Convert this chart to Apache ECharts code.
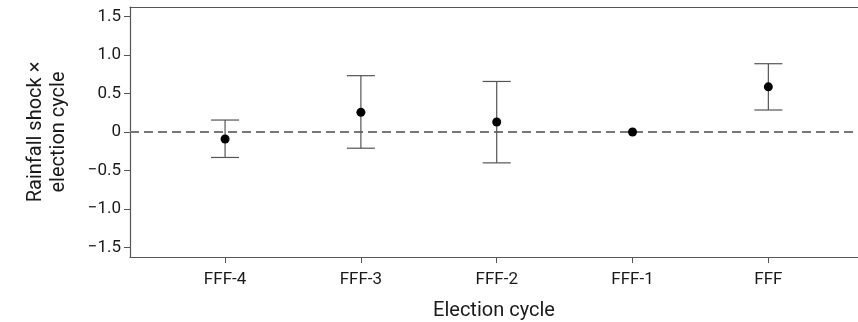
<!DOCTYPE html>
<html>
<head>
<meta charset="utf-8">
<script src="https://cdn.jsdelivr.net/npm/echarts@6/dist/echarts.min.js"></script>
<style>
  html, body { margin: 0; padding: 0; background: #fff; }
  #main { width: 858px; height: 322px; }
</style>
</head>
<body>
<div id="main"></div>
<script>
// election cycles, x positions 1..5
const categories = ["FFF-4", "FFF-3", "FFF-2", "FFF-1", "FFF"];
const estimates = [-0.09, 0.255, 0.13, 0, 0.585];
const ciLower = [-0.33, -0.21, -0.40, null, 0.285];
const ciUpper = [0.155, 0.73, 0.655, null, 0.885];
const yTicks = [-1.5, -1.0, -0.5, 0, 0.5, 1.0, 1.5];

const font = "Roboto, 'Noto Sans', sans-serif";
const xs = categories.map((c, i) => i + 1);

var chartDom = document.getElementById("main");
var myChart = echarts.init(chartDom);

const points = categories.map((c, i) => [i + 1, estimates[i]]);
const bars = categories
  .map((c, i) => [i + 1, ciLower[i], ciUpper[i]])
  .filter((d) => d[1] != null);

const fmtY = (v) => {
  if (Math.abs(v) < 1e-9) return "0";
  const s = Math.abs(v).toFixed(1);
  return v < 0 ? "\u2212" + s : s;
};

var option = {
  animation: false,
  grid: { left: 130, right: 0, top: 7, bottom: 65, outerBoundsMode: "none", containLabel: false },
  xAxis: [
    {
      type: "value",
      min: 0.3,
      max: 5.66,
      splitLine: { show: false },
      axisLine: { onZero: false, lineStyle: { color: "#555", width: 1.2 } },
      axisTick: { customValues: xs, length: 6, lineStyle: { color: "#555" } },
      axisLabel: {
        customValues: xs,
        formatter: (v) => categories[Math.round(v) - 1],
        color: "#1a1a1a",
        fontFamily: font,
        fontSize: 17,
        margin: 14,
      },
      name: "Election cycle",
      nameLocation: "middle",
      nameGap: 44,
      nameTextStyle: { color: "#1a1a1a", fontFamily: font, fontSize: 20 },
    },
    {
      type: "value",
      position: "top",
      min: 0.3,
      max: 5.66,
      splitLine: { show: false },
      axisLine: { onZero: false, lineStyle: { color: "#555", width: 1.2 } },
      axisTick: { show: false },
      axisLabel: { show: false },
    },
  ],
  yAxis: {
    type: "value",
    min: -1.62,
    max: 1.62,
    splitLine: { show: false },
    axisLine: { show: true, onZero: false, lineStyle: { color: "#555", width: 1.2 } },
    axisTick: { show: true, customValues: yTicks, length: 6, lineStyle: { color: "#555" } },
    axisLabel: {
      customValues: yTicks,
      formatter: fmtY,
      color: "#1a1a1a",
      fontFamily: font,
      fontSize: 17,
      margin: 9,
    },
    name: "Rainfall shock \u00d7\nelection cycle",
    nameLocation: "middle",
    nameGap: 60,
    nameTextStyle: { color: "#1a1a1a", fontFamily: font, fontSize: 20, lineHeight: 23 },
  },
  series: [
    {
      type: "custom",
      data: bars,
      renderItem: function (params, api) {
        const x = api.value(0);
        const lo = api.coord([x, api.value(1)]);
        const hi = api.coord([x, api.value(2)]);
        const hw = 14;
        const style = { stroke: "#555", lineWidth: 1.2 };
        return {
          type: "group",
          children: [
            { type: "line", shape: { x1: lo[0], y1: lo[1], x2: hi[0], y2: hi[1] }, style: style },
            { type: "line", shape: { x1: lo[0] - hw, y1: lo[1], x2: lo[0] + hw, y2: lo[1] }, style: style },
            { type: "line", shape: { x1: hi[0] - hw, y1: hi[1], x2: hi[0] + hw, y2: hi[1] }, style: style },
          ],
        };
      },
      z: 3,
    },
    {
      type: "scatter",
      data: points,
      symbol: "circle",
      symbolSize: 9,
      itemStyle: { color: "#000", opacity: 1 },
      z: 4,
      markLine: {
        silent: true,
        symbol: "none",
        label: { show: false },
        lineStyle: { color: "#777", type: [9, 5], width: 2 },
        data: [{ yAxis: 0 }],
        z: 2,
      },
    },
  ],
};

option && myChart.setOption(option);
</script>
</body>
</html>
